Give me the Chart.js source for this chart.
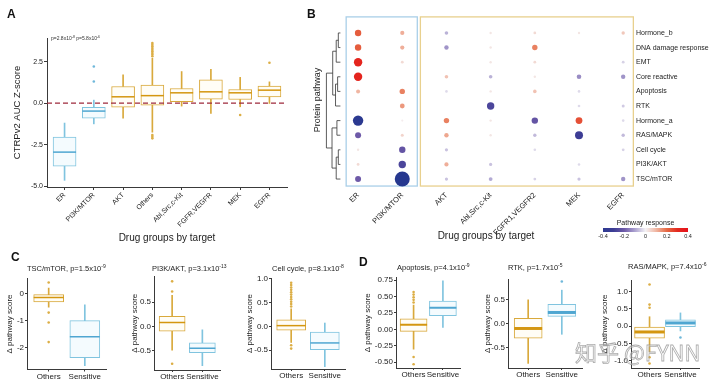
<!DOCTYPE html>
<html>
<head>
<meta charset="utf-8">
<title>Drug groups by target</title>
<script src="https://cdn.jsdelivr.net/npm/chart.js@4.4.1/dist/chart.umd.min.js"></script>
<style>
  html, body { margin: 0; padding: 0; background: #fff; }
  body { position: relative; width: 720px; height: 386px; overflow: hidden; font-family: "Liberation Sans", Arial, sans-serif; color: #222; }
  canvas { position: absolute; }
  .tag { position: absolute; font-size: 12px; line-height: 12px; font-weight: bold; color: #111; }
  .sub { position: absolute; font-size: 7.5px; line-height: 8px; white-space: nowrap; color: #222; }
  .sub sup { font-size: 5px; vertical-align: 3px; line-height: 0; }
  .pval { position: absolute; left: 51px; top: 35px; font-size: 5px; line-height: 6px; white-space: nowrap; color: #333; }
  .pval sup { font-size: 3.5px; vertical-align: 2px; line-height: 0; }
  .mark { position: absolute; left: 575px; top: 338px; font-family: "Noto Sans CJK SC", sans-serif; font-size: 22px; line-height: 26px; white-space: nowrap;
          color: rgba(255,255,255,0.35); -webkit-text-stroke: 0.8px rgba(150,150,150,0.8); }
</style>
</head>
<body>
<canvas id="chart-a" width="300" height="244" style="left:0;top:0"></canvas>
<canvas id="chart-b" width="420" height="244" style="left:300px;top:0"></canvas>
<canvas id="chart-c1" width="119" height="124" style="left:4px;top:262px"></canvas>
<canvas id="chart-c2" width="106" height="124" style="left:129px;top:262px"></canvas>
<canvas id="chart-c3" width="117" height="124" style="left:244px;top:262px"></canvas>
<canvas id="chart-d1" width="114" height="124" style="left:362px;top:262px"></canvas>
<canvas id="chart-d2" width="117" height="124" style="left:482px;top:262px"></canvas>
<canvas id="chart-d3" width="118" height="124" style="left:599px;top:262px"></canvas>

<div class="tag" style="left:7px;top:8px">A</div>
<div class="tag" style="left:307px;top:8px">B</div>
<div class="tag" style="left:11px;top:251px">C</div>
<div class="tag" style="left:359px;top:256px">D</div>
<div class="pval">p=2.8x10<sup>-8</sup> p=5.8x10<sup>-6</sup></div>
<div class="sub" style="left:27px;top:265px">TSC/mTOR, p=1.5x10<sup>-9</sup></div>
<div class="sub" style="left:152px;top:265px">PI3K/AKT, p=3.1x10<sup>-13</sup></div>
<div class="sub" style="left:272px;top:265px">Cell cycle, p=8.1x10<sup>-8</sup></div>
<div class="sub" style="left:397px;top:264px">Apoptosis, p=4.1x10<sup>-9</sup></div>
<div class="sub" style="left:508px;top:264px">RTK, p=1.7x10<sup>-5</sup></div>
<div class="sub" style="left:628px;top:263px">RAS/MAPK, p=7.4x10<sup>-6</sup></div>
<div class="mark">知乎 @FYNN</div>

<script>
// ===== 数据: A 面板 =====
var groupsA = ['ER', 'PI3K/MTOR', 'AKT', 'Others', 'Abl,Src,c-Kit', 'FGFR,VEGFR', 'MEK', 'EGFR'];
var kindA = ['s', 's', 'o', 'o', 'o', 'o', 'o', 'o'];
var lowA = [-4.65, -1.25, -0.9, -1.75, -0.18, -0.62, -0.22, -0.02];
var q1A = [-3.8, -0.9, -0.25, -0.12, 0.08, 0.24, 0.22, 0.38];
var medA = [-2.95, -0.48, 0.38, 0.45, 0.62, 0.68, 0.62, 0.78];
var q3A = [-2.05, -0.25, 1.0, 1.08, 0.88, 1.4, 0.82, 1.02];
var highA = [-1.2, 0.18, 1.7, 2.7, 1.9, 2.03, 1.55, 1.28];
var outA = [[], [1.3, 2.2], [], [3.62, 3.52, 3.42, 3.32, 3.22, 3.12, 3.02, 2.92, 2.82, -1.92, -2.02, -2.12], [], [], [-0.72], [2.43]];
var ticksA = [-5, -2.5, 0, 2.5];

// ===== 数据: B 面板 =====
var colsB = ['ER', 'PI3K/MTOR', 'AKT', 'Abl,Src,c-Kit', 'FGFR1,VEGFR2', 'MEK', 'EGFR'];
var rowsB = ['Hormone_b', 'DNA damage response', 'EMT', 'Core reactive', 'Apoptosis', 'RTK',
             'Hormone_a', 'RAS/MAPK', 'Cell cycle', 'PI3K/AKT', 'TSC/mTOR'];
var respER = [0.22, 0.22, 0.32, 0.32, 0.1, 0, -0.42, -0.2, 0.02, 0.04, -0.2];
var respPI3K = [0.11, 0.11, 0.04, 0, 0.17, 0.14, 0.01, 0.05, -0.22, -0.27, -0.65];
var respAKT = [-0.08, -0.12, 0, 0.08, -0.03, 0, 0.17, 0.12, -0.06, 0.11, -0.06];
var respAbl = [0.02, 0.02, 0.02, -0.08, 0.02, -0.27, 0.02, 0.02, 0, -0.06, -0.09];
var respFGFR = [0.04, 0.17, 0.04, 0.02, 0.08, 0, -0.22, -0.07, -0.03, 0, -0.04];
var respMEK = [0.02, 0, 0, -0.13, -0.03, -0.03, 0.24, -0.3, 0, -0.03, -0.06];
var respEGFR = [0.07, 0, -0.04, -0.12, 0, -0.05, -0.03, -0.07, -0.04, 0, -0.12];
var legendTicksB = [-0.4, -0.2, 0, 0.2, 0.4];
// 树状图合并: [左, 右, 高度], 叶子 0-10, 内部节点从 11 开始
var dendroMerges = [[0, 1, 0.15], [11, 2, 0.3], [3, 4, 0.2], [13, 5, 0.35], [12, 14, 0.55],
                    [6, 7, 0.25], [8, 9, 0.15], [17, 10, 0.3], [16, 18, 0.6], [15, 19, 1.0]];

// ===== 数据: C / D 面板 =====
var groupsCD = ['Others', 'Sensitive'];
var kindCD = ['o', 's'];

var lowC1 = [-0.5, -2.68], q1C1 = [-0.3, -2.38], medC1 = [-0.14, -1.6], q3C1 = [-0.03, -1.0], highC1 = [0.21, -0.41];
var outC1 = [[0.42, -0.7, -1.07, -1.8], []];
var ticksC1 = [-2, -1, 0];

var lowC2 = [-0.49, -0.81], q1C2 = [-0.1, -0.54], medC2 = [0.08, -0.45], q3C2 = [0.21, -0.34], highC2 = [0.64, -0.07];
var outC2 = [[0.93, 0.72, -0.77], []];
var ticksC2 = [-0.5, 0, 0.5];

var lowC3 = [-0.34, -0.85], q1C3 = [-0.08, -0.49], medC3 = [0.015, -0.35], q3C3 = [0.14, -0.12], highC3 = [0.37, 0.07];
var outC3 = [[0.92, 0.87, 0.82, 0.77, 0.72, 0.67, 0.62, 0.57, 0.52, 0.47, 0.42, -0.4, -0.47], []];
var ticksC3 = [-0.5, 0, 0.5, 1.0];

var lowD1 = [-0.3, 0.03], q1D1 = [-0.03, 0.21], medD1 = [0.07, 0.33], q3D1 = [0.16, 0.43], highD1 = [0.37, 0.74];
var outD1 = [[0.57, 0.53, 0.49, 0.45, 0.41, -0.42, -0.53], []];
var ticksD1 = [-0.5, -0.25, 0, 0.25, 0.5, 0.75];

var lowD2 = [-0.82, -0.22], q1D2 = [-0.3, 0.15], medD2 = [-0.1, 0.23], q3D2 = [0.11, 0.4], highD2 = [0.49, 0.69];
var outD2 = [[], [0.87]];
var ticksD2 = [-0.5, 0, 0.5];

var lowD3 = [-0.75, -0.14], q1D3 = [-0.35, -0.02], medD3 = [-0.17, 0.09], q3D3 = [-0.03, 0.18], highD3 = [0.27, 0.38];
var outD3 = [[1.2, 0.62, 0.53, -0.9, -1.08], [-0.33]];
var ticksD3 = [-1, -0.5, 0, 0.5, 1];

// ===== 样式 =====
var GOLD = '#d9a93c', GOLD_MED = '#d4960f', GOLD_FILL = '#fffdf6', GOLD_PT = '#dcae45';
var BLUE = '#80c4df', BLUE_MED = '#4fa6d1', BLUE_FILL = '#f4fbfe', BLUE_PT = '#6fb8da';
var AXIS = '#3a3a3a';
var TEXT = '#222';
var RESP_STOPS = [-0.45, -0.3, -0.2, -0.1, 0, 0.1, 0.2, 0.3, 0.4];
var RESP_COLORS = ['#26388f', '#3d3d95', '#6e5aa8', '#aca2d0', '#f4f2f5', '#f0b6a2', '#e66a45', '#e32a1f', '#e6101a'];

Chart.defaults.font.family = '"Liberation Sans", Arial, sans-serif';
Chart.defaults.color = TEXT;

function hexRgb(h) {
  return [parseInt(h.slice(1, 3), 16), parseInt(h.slice(3, 5), 16), parseInt(h.slice(5, 7), 16)];
}

function responseColor(v) {
  if (v <= RESP_STOPS[0]) return RESP_COLORS[0];
  var last = RESP_STOPS.length - 1;
  if (v >= RESP_STOPS[last]) return RESP_COLORS[last];
  for (var i = 0; i < last; i++) {
    if (v >= RESP_STOPS[i] && v <= RESP_STOPS[i + 1]) {
      var t = (v - RESP_STOPS[i]) / (RESP_STOPS[i + 1] - RESP_STOPS[i]);
      var a = hexRgb(RESP_COLORS[i]), b = hexRgb(RESP_COLORS[i + 1]);
      return 'rgb(' + a.map(function(c, k) { return Math.round(c + (b[k] - c) * t); }).join(',') + ')';
    }
  }
  return RESP_COLORS[4];
}

// ===== 箱线图 =====
function boxDatasets(p) {
  var low = [], high = [], body = [], med = [], out = [];
  p.kinds.forEach(function(k, i) {
    low.push({ x: i, y: [p.low[i], p.q1[i]] });
    high.push({ x: i, y: [p.q3[i], p.high[i]] });
    body.push({ x: i, y: [p.q1[i], p.q3[i]] });
    med.push({ x: i, y: p.med[i] });
    p.outs[i].forEach(function(v) { out.push({ x: i, y: v }); });
  });
  var line = p.kinds.map(function(k) { return k === 's' ? BLUE : GOLD; });
  var fill = p.kinds.map(function(k) { return k === 's' ? BLUE_FILL : GOLD_FILL; });
  var medc = p.kinds.map(function(k) { return k === 's' ? BLUE_MED : GOLD_MED; });
  return [
    { type: 'bar', data: low, backgroundColor: line, barThickness: 1, grouped: false, order: 5 },
    { type: 'bar', data: high, backgroundColor: line, barThickness: 1, grouped: false, order: 4 },
    { type: 'bar', data: body, backgroundColor: fill, borderColor: line, borderWidth: 1,
      borderSkipped: false, barThickness: p.box, grouped: false, order: 3 },
    { type: 'line', data: med, showLine: false, pointStyle: 'line', pointRadius: p.box / 2,
      pointBorderWidth: p.medW, pointBorderColor: medc, pointBackgroundColor: medc, order: 2 },
    { type: 'line', data: out, showLine: false, pointStyle: 'circle', pointRadius: 1.3, pointBorderWidth: 0,
      pointBackgroundColor: function(ctx) {
        return ctx.raw && p.kinds[ctx.raw.x] === 's' ? BLUE_PT : GOLD_PT;
      }, order: 1 }
  ];
}

function boxChart(id, p) {
  var grid = { drawOnChartArea: false, tickLength: p.tickLen || 2, color: AXIS };
  return new Chart(document.getElementById(id), {
    type: 'bar',
    data: { datasets: boxDatasets(p) },
    options: {
      responsive: false,
      animation: false,
      events: [],
      layout: { padding: { left: p.padL || 0, top: p.padT, right: p.padR || 6, bottom: 0 } },
      plugins: { legend: { display: false }, tooltip: { enabled: false } },
      scales: {
        x: {
          type: 'linear', offset: false, min: -0.6, max: p.labels.length - 0.4,
          afterBuildTicks: function(s) { s.ticks = p.labels.map(function(_, i) { return { value: i }; }); },
          ticks: { callback: function(v) { return p.labels[v]; }, font: { size: p.catFont }, color: TEXT,
                   padding: p.catPad || 0, minRotation: p.rot || 0, maxRotation: p.rot || 0, autoSkip: false },
          grid: { drawOnChartArea: false, offset: false, tickLength: p.tickLen || 2, color: AXIS },
          border: { color: AXIS, width: 1 },
          title: p.xtitle ? { display: true, text: p.xtitle, font: { size: 10 }, color: TEXT, padding: { top: 0, bottom: 0 } } : { display: false },
          afterFit: function(s) { s.height = p.xh; s.paddingLeft = 0; s.paddingRight = 0; }
        },
        y: {
          type: 'linear', min: p.min, max: p.max,
          afterBuildTicks: function(s) { s.ticks = p.ticks.map(function(v) { return { value: v }; }); },
          ticks: { callback: p.fmt, font: { size: p.tickFont }, color: TEXT, padding: 1 },
          grid: grid,
          border: { color: AXIS, width: 1 },
          title: { display: true, text: p.ytitle, font: { size: p.ytitleSize || 8 }, color: TEXT, padding: { top: 1, bottom: 0 } },
          afterFit: function(s) { s.width = p.yw; s.paddingTop = 0; s.paddingBottom = 0; }
        }
      }
    },
    plugins: p.plugins || []
  });
}

var fmt0 = function(v) { return String(v); };
var fmt1 = function(v) { return v.toFixed(1); };
var fmt2 = function(v) { return v.toFixed(2); };

// A 面板的 0 参考虚线
var zeroLine = {
  id: 'zeroLine',
  afterDatasetsDraw: function(chart) {
    var a = chart.chartArea, ctx = chart.ctx;
    var y = chart.scales.y.getPixelForValue(0);
    ctx.save();
    ctx.strokeStyle = '#9e2a3c';
    ctx.lineWidth = 1.2;
    ctx.setLineDash([5, 3]);
    ctx.beginPath();
    ctx.moveTo(a.left, y);
    ctx.lineTo(a.right, y);
    ctx.stroke();
    ctx.restore();
  }
};

boxChart('chart-a', {
  labels: groupsA, kinds: kindA, low: lowA, q1: q1A, med: medA, q3: q3A, high: highA, outs: outA,
  ticks: ticksA, min: -5.05, max: 3.92, fmt: fmt1, tickFont: 7, catFont: 7, rot: 45, catPad: 1, tickLen: 3,
  box: 23, medW: 1.5, padL: 11, padT: 38, padR: 10, yw: 36, xh: 57,
  ytitle: 'CTRPv2 AUC Z-score', ytitleSize: 9.5, xtitle: 'Drug groups by target', plugins: [zeroLine]
});

boxChart('chart-c1', {
  labels: groupsCD, kinds: kindCD, low: lowC1, q1: q1C1, med: medC1, q3: q3C1, high: highC1, outs: outC1,
  ticks: ticksC1, min: -2.82, max: 0.57, fmt: fmt0, tickFont: 8, catFont: 8,
  box: 30, medW: 1.5, padT: 13, yw: 23, xh: 16, ytitle: 'Δ pathway score'
});
boxChart('chart-c2', {
  labels: groupsCD, kinds: kindCD, low: lowC2, q1: q1C2, med: medC2, q3: q3C2, high: highC2, outs: outC2,
  ticks: ticksC2, min: -0.9, max: 1.03, fmt: fmt1, tickFont: 8, catFont: 8,
  box: 26, medW: 1.5, padT: 13, yw: 25, xh: 16, ytitle: 'Δ pathway score'
});
boxChart('chart-c3', {
  labels: groupsCD, kinds: kindCD, low: lowC3, q1: q1C3, med: medC3, q3: q3C3, high: highC3, outs: outC3,
  ticks: ticksC3, min: -0.9, max: 1.02, fmt: fmt1, tickFont: 8, catFont: 8,
  box: 29, medW: 1.5, padT: 13, yw: 27, xh: 17, ytitle: 'Δ pathway score'
});
boxChart('chart-d1', {
  labels: groupsCD, kinds: kindCD, low: lowD1, q1: q1D1, med: medD1, q3: q3D1, high: highD1, outs: outD1,
  ticks: ticksD1, min: -0.587, max: 0.79, fmt: fmt2, tickFont: 8, catFont: 8,
  box: 27, medW: 2, padT: 13, yw: 34, xh: 18, ytitle: 'Δ pathway score'
});
boxChart('chart-d2', {
  labels: groupsCD, kinds: kindCD, low: lowD2, q1: q1D2, med: medD2, q3: q3D2, high: highD2, outs: outD2,
  ticks: ticksD2, min: -0.915, max: 0.92, fmt: fmt1, tickFont: 8, catFont: 8,
  box: 28, medW: 3, padT: 13, yw: 26, xh: 18, ytitle: 'Δ pathway score'
});
boxChart('chart-d3', {
  labels: groupsCD, kinds: kindCD, low: lowD3, q1: q1D3, med: medD3, q3: q3D3, high: highD3, outs: outD3,
  ticks: ticksD3, min: -1.21, max: 1.33, fmt: fmt1, tickFont: 8, catFont: 8,
  box: 30, medW: 3, padT: 11, yw: 32, xh: 18, ytitle: 'Δ pathway score'
});

// ===== B 面板: 点图 =====
var respCols = [respER, respPI3K, respAKT, respAbl, respFGFR, respMEK, respEGFR];
var dotsB = [];
respCols.forEach(function(col, ci) {
  col.forEach(function(v, ri) {
    if (v !== 0) dotsB.push({ x: ci, y: ri, r: 1 + 10 * Math.abs(v), v: v });
  });
});

var groupBoxes = {
  id: 'groupBoxes',
  beforeDatasetsDraw: function(chart) {
    var xs = chart.scales.x, ys = chart.scales.y, ctx = chart.ctx;
    var top = ys.getPixelForValue(-1.1), bottom = ys.getPixelForValue(10.48);
    [[-0.27, 1.34, '#a9cfe8'], [1.41, 6.23, '#e8d08e']].forEach(function(b) {
      var l = xs.getPixelForValue(b[0]), r = xs.getPixelForValue(b[1]);
      ctx.save();
      ctx.strokeStyle = b[2];
      ctx.lineWidth = 1.3;
      ctx.strokeRect(l, top, r - l, bottom - top);
      ctx.restore();
    });
  }
};

var dendrogram = {
  id: 'dendrogram',
  afterDraw: function(chart) {
    var xs = chart.scales.x, ys = chart.scales.y, ctx = chart.ctx;
    var leafX = xs.getPixelForValue(-0.4), span = 14;
    var nodes = rowsB.map(function(_, i) { return { y: ys.getPixelForValue(i), h: 0 }; });
    ctx.save();
    ctx.strokeStyle = '#333';
    ctx.lineWidth = 0.8;
    ctx.beginPath();
    dendroMerges.forEach(function(m) {
      var a = nodes[m[0]], b = nodes[m[1]];
      var x = leafX - m[2] * span;
      ctx.moveTo(leafX - a.h * span, a.y); ctx.lineTo(x, a.y);
      ctx.moveTo(leafX - b.h * span, b.y); ctx.lineTo(x, b.y);
      ctx.moveTo(x, a.y); ctx.lineTo(x, b.y);
      nodes.push({ y: (a.y + b.y) / 2, h: m[2] });
    });
    ctx.stroke();
    ctx.translate(18, 100);
    ctx.rotate(-Math.PI / 2);
    ctx.fillStyle = TEXT;
    ctx.font = '9px "Liberation Sans", Arial, sans-serif';
    ctx.textAlign = 'center';
    ctx.textBaseline = 'middle';
    ctx.fillText('Protein pathway', 0, 0);
    ctx.restore();
  }
};

var responseLegend = {
  id: 'responseLegend',
  afterDraw: function(chart) {
    var ctx = chart.ctx;
    var x0 = 303, x1 = 388, y0 = 228;
    var lo = legendTicksB[0], hi = legendTicksB[legendTicksB.length - 1];
    var g = ctx.createLinearGradient(x0, 0, x1, 0);
    for (var k = 0; k <= 16; k++) {
      g.addColorStop(k / 16, responseColor(lo + (hi - lo) * k / 16));
    }
    ctx.save();
    ctx.fillStyle = g;
    ctx.fillRect(x0, y0, x1 - x0, 4);
    ctx.fillStyle = TEXT;
    ctx.textAlign = 'center';
    ctx.textBaseline = 'middle';
    ctx.font = '7px "Liberation Sans", Arial, sans-serif';
    ctx.fillText('Pathway response', (x0 + x1) / 2, 223);
    ctx.font = '5.5px "Liberation Sans", Arial, sans-serif';
    legendTicksB.forEach(function(v) {
      ctx.fillText(String(v), x0 + (v - lo) / (hi - lo) * (x1 - x0), 236);
    });
    ctx.restore();
  }
};

new Chart(document.getElementById('chart-b'), {
  type: 'bubble',
  data: {
    datasets: [{
      data: dotsB,
      backgroundColor: function(ctx) { return ctx.raw ? responseColor(ctx.raw.v) : '#fff'; },
      borderWidth: 0,
      clip: false
    }]
  },
  options: {
    responsive: false,
    animation: false,
    events: [],
    layout: { padding: { left: 36, top: 24.2, right: 0, bottom: 0 } },
    plugins: { legend: { display: false }, tooltip: { enabled: false } },
    scales: {
      x: {
        type: 'linear', offset: false, min: -0.5, max: 6.29,
        afterBuildTicks: function(s) { s.ticks = colsB.map(function(_, i) { return { value: i }; }); },
        ticks: { callback: function(v) { return colsB[v]; }, font: { size: 7.5 }, color: TEXT, padding: 3,
                 minRotation: 45, maxRotation: 45, autoSkip: false },
        grid: { display: false, drawTicks: false },
        border: { display: false },
        title: { display: true, text: 'Drug groups by target', font: { size: 10 }, color: TEXT, padding: { top: 0, bottom: 2 } },
        afterFit: function(s) { s.height = 56.2; s.paddingLeft = 0; s.paddingRight = 0; }
      },
      y: {
        type: 'linear', offset: false, position: 'right', reverse: true, min: -0.6, max: 10.6,
        afterBuildTicks: function(s) { s.ticks = rowsB.map(function(_, i) { return { value: i }; }); },
        ticks: { callback: function(v) { return rowsB[v]; }, font: { size: 7 }, color: TEXT, padding: 0, autoSkip: false },
        grid: { display: false, drawTicks: false },
        border: { display: false },
        afterFit: function(s) { s.width = 84; s.paddingTop = 0; s.paddingBottom = 0; }
      }
    }
  },
  plugins: [groupBoxes, dendrogram, responseLegend]
});
</script>
</body>
</html>
